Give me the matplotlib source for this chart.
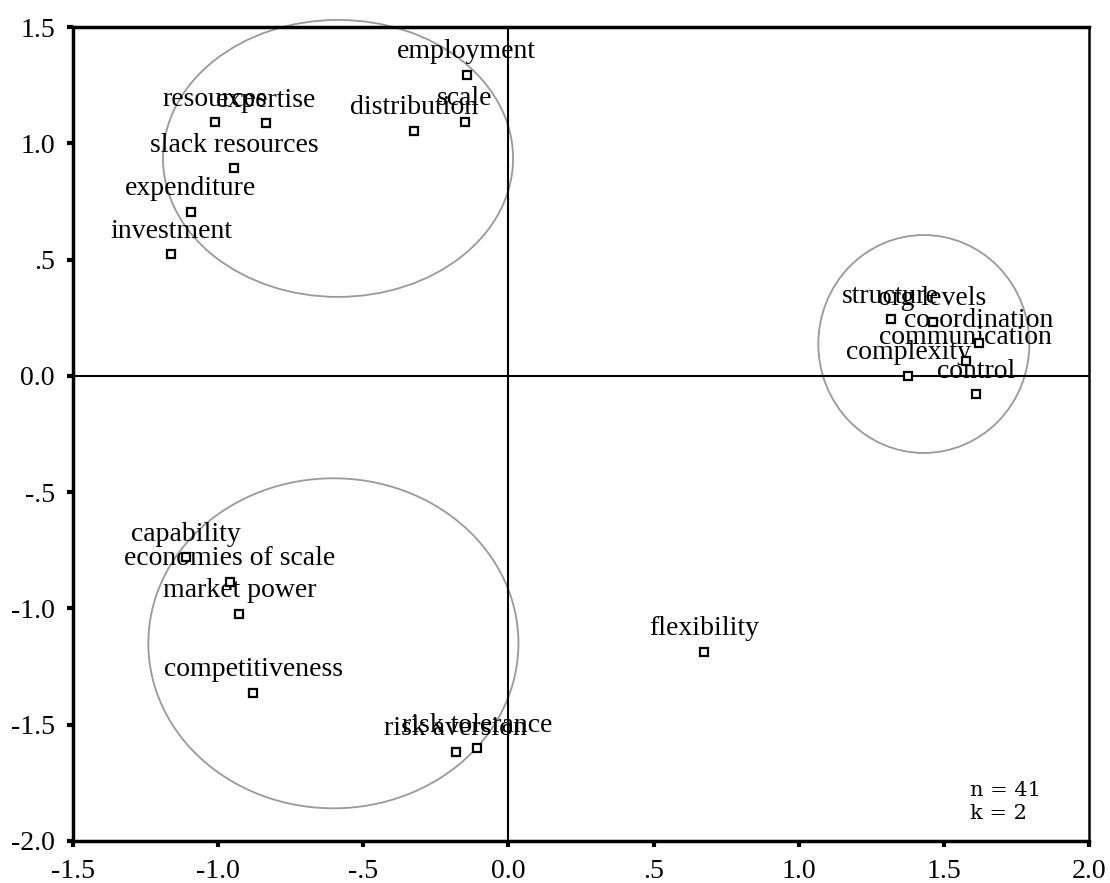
import matplotlib
matplotlib.use('Agg')
import matplotlib.pyplot as plt
from matplotlib.patches import Ellipse

plt.rcParams['font.family'] = ['Liberation Serif', 'DejaVu Serif']

# concept coordinates (two-dimensional map)
labels = ['employment', 'scale', 'distribution', 'resources', 'expertise',
          'slack resources', 'expenditure', 'investment',
          'structure', 'org levels', 'co-ordination', 'communication',
          'complexity', 'control',
          'capability', 'economies of scale', 'market power', 'competitiveness',
          'risk aversion', 'risk tolerance', 'flexibility']
dim1 = [-0.144, -0.150, -0.324, -1.011, -0.836, -0.945, -1.094, -1.162,
        1.317, 1.461, 1.621, 1.576, 1.377, 1.610,
        -1.111, -0.959, -0.927, -0.879, -0.182, -0.107, 0.675]
dim2 = [1.294, 1.093, 1.053, 1.090, 1.086, 0.893, 0.706, 0.523,
        0.243, 0.233, 0.140, 0.064, 0.001, -0.079,
        -0.780, -0.885, -1.024, -1.362, -1.618, -1.601, -1.188]

# cluster rings
ring_x = [-0.587, 1.431, -0.603]
ring_y = [0.935, 0.137, -1.150]
ring_w = [1.206, 0.727, 1.275]
ring_h = [1.191, 0.937, 1.419]

xticks = [-1.5, -1.0, -0.5, 0.0, 0.5, 1.0, 1.5, 2.0]
xtick_labels = ['-1.5', '-1.0', '-.5', '0.0', '.5', '1.0', '1.5', '2.0']
yticks = [-2.0, -1.5, -1.0, -0.5, 0.0, 0.5, 1.0, 1.5]
ytick_labels = ['-2.0', '-1.5', '-1.0', '-.5', '0.0', '.5', '1.0', '1.5']

fig = plt.figure(figsize=(11.1, 8.83), dpi=100)
ax = fig.add_axes([73/1110, 1 - 841/883, (1089 - 73)/1110, (841 - 27)/883])
ax.set_xlim(-1.5, 2.0)
ax.set_ylim(-2.0, 1.5)

# axes through origin
ax.axhline(0, color='black', lw=1.5, zorder=2)
ax.axvline(0, color='black', lw=1.5, zorder=2)

for cx, cy, w, h in zip(ring_x, ring_y, ring_w, ring_h):
    ax.add_patch(Ellipse((cx, cy), w, h, fill=False, edgecolor='#999999',
                         lw=1.3, clip_on=False, zorder=1))

ax.plot(dim1, dim2, 's', ms=6, mfc='white', mec='black', mew=1.6, zorder=5)
for lab, xx, yy in zip(labels, dim1, dim2):
    ax.annotate(lab, (xx, yy), xytext=(0, 12), textcoords='offset points',
                ha='center', va='baseline', fontsize=20, zorder=3)

ax.text(0.883, 0.022, 'n = 41\nk = 2', transform=ax.transAxes,
        ha='left', va='bottom', fontsize=15, linespacing=1.3,
        family=['DejaVu Serif'])

ax.set_xticks(xticks)
ax.set_xticklabels(xtick_labels)
ax.set_yticks(yticks)
ax.set_yticklabels(ytick_labels)
ax.tick_params(direction='out', length=4, width=3, labelsize=20, pad=9)

for side in ['left', 'bottom', 'top']:
    ax.spines[side].set_linewidth(2.5)
ax.spines['right'].set_linewidth(1.8)

fig.savefig('out.png', dpi=100)
